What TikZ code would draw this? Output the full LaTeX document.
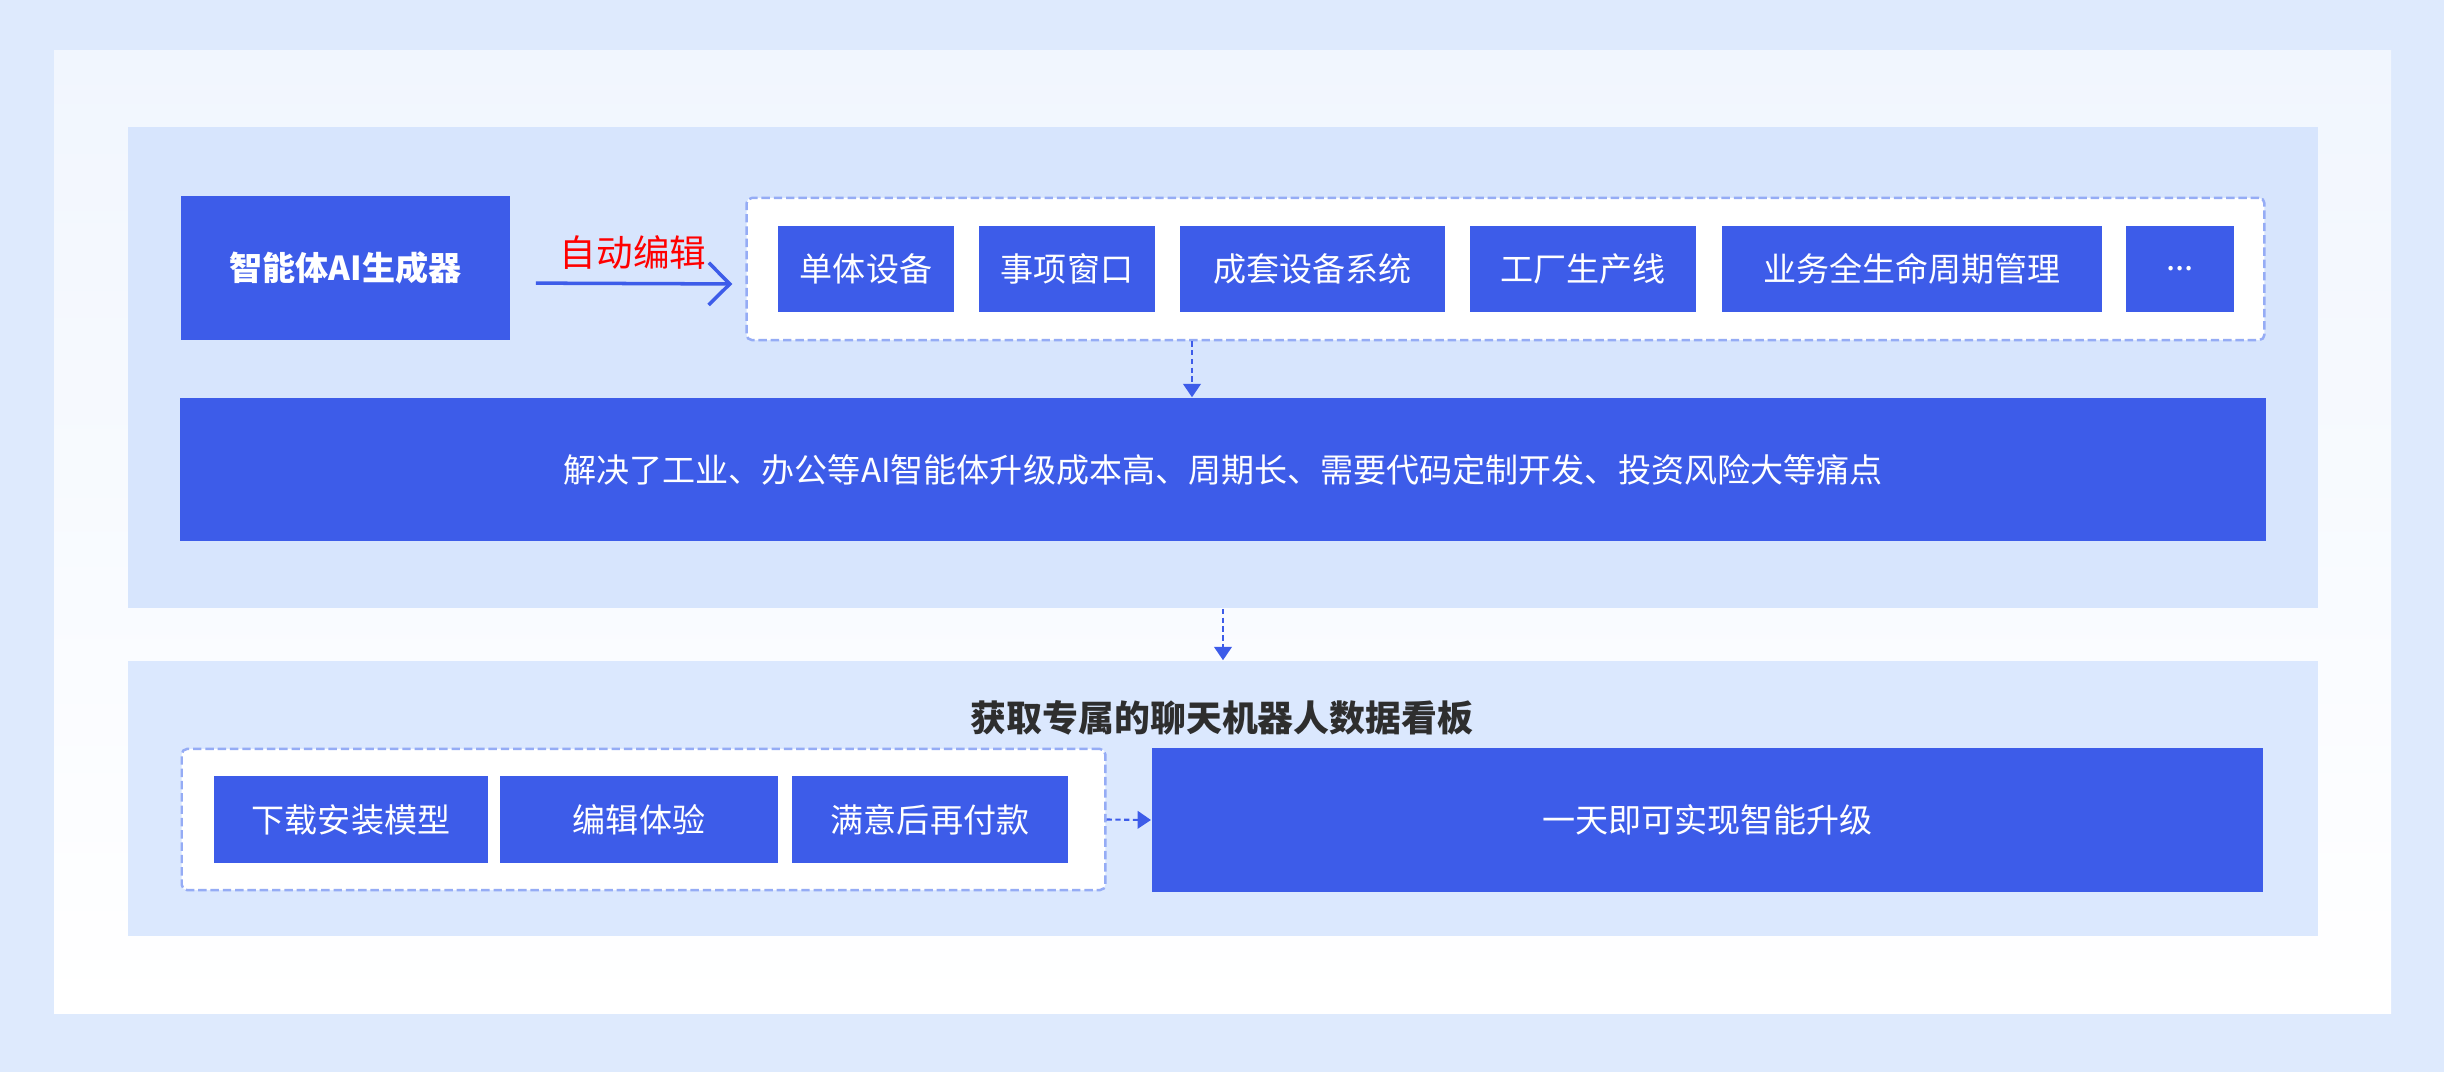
\documentclass[tikz,border=0pt]{standalone}
\usepackage{fontspec}
\usepackage{xcolor}
\newfontfamily\cjk{Noto Sans CJK SC}
\usetikzlibrary{positioning,calc,arrows.meta}

\definecolor{outerbg}{HTML}{DEEAFD}
\definecolor{panelA}{HTML}{F1F6FE}
\definecolor{secA}{HTML}{D7E5FD}
\definecolor{secB}{HTML}{DBE8FE}
\definecolor{boxblue}{HTML}{3D5CE9}
\definecolor{dashblue}{HTML}{95ACF5}
\definecolor{titlegray}{HTML}{2E2E2E}

\begin{document}
\begin{tikzpicture}[x=0.01cm, y=-0.01cm,
  blk/.style={fill=boxblue, text=white, inner sep=0pt, font=\cjk\fontsize{9.4}{11}\selectfont},
  grpbox/.style={draw=dashblue, fill=white, line width=0.7pt, dash pattern=on 2.4pt off 1.1pt, rounded corners=1.5pt, inner sep=0pt},
  sec/.style={inner sep=0pt},
  flow/.style={draw=boxblue, line width=1pt, -{Straight Barb[length=6pt,width=12pt]}},
  dflow/.style={draw=boxblue, line width=0.6pt, dash pattern=on 1.5pt off 1pt, -{Triangle[length=3.8pt,width=5pt]}},
  lbl/.style={text=red, inner sep=0pt, font=\cjk\fontsize{10.4}{12}\selectfont}]

  % Background and panel
  \fill[outerbg] (0,0) rectangle (2444,1072);
  \shade[top color=panelA, bottom color=white] (54,50) rectangle (2391,1013);

  % Sections
  \node[sec, fill=secA, minimum width=21.88cm, minimum height=4.81cm] (upper) at (1223,367.5) {};
  \node[sec, fill=secB, minimum width=21.88cm, minimum height=2.75cm] (lower) at (1223,798.5) {};

  % Generator and scenarios
  \node[blk, minimum width=3.29cm, minimum height=1.44cm, font=\cjk\bfseries\fontsize{9.4}{11}\selectfont] (gen) at (345.5,268) {智能体AI生成器};
  \node[grpbox, minimum width=15.17cm, minimum height=1.42cm] (grp) at (1505.5,269) {};
  \node[blk, minimum width=1.76cm, minimum height=0.86cm] (dev) at (866,269) {单体设备};
  \node[blk, minimum width=1.76cm, minimum height=0.86cm] (win) at (1067,269) {事项窗口};
  \node[blk, minimum width=2.65cm, minimum height=0.86cm] (sys) at (1312.5,269) {成套设备系统};
  \node[blk, minimum width=2.26cm, minimum height=0.86cm] (fab) at (1583,269) {工厂生产线};
  \node[blk, minimum width=3.80cm, minimum height=0.86cm] (biz) at (1912,269) {业务全生命周期管理};
  \node[blk, minimum width=1.08cm, minimum height=0.86cm] (more) at (2180,269) {...};
  \draw[flow, shorten <=0.25cm, shorten >=0.13cm] ([yshift=-0.15cm]gen.east) -- ([yshift=-0.15cm]grp.west)
    node[midway, above=3.5pt, xshift=0.05cm, lbl] {自动编辑};

  % Pain points
  \node[blk, minimum width=20.84cm, minimum height=1.43cm] (pain) at (1223,469.5) {解决了工业、办公等AI智能体升级成本高、周期长、需要代码定制开发、投资风险大等痛点};
  \coordinate (dx) at (1192,0);
  \draw[dflow] (grp.south -| dx) -- (pain.north -| dx);

  \draw[dflow] (upper.south) -- (lower.north);

  % Lower part
  \node[inner sep=0pt, text=titlegray, font=\cjk\bfseries\fontsize{10.2}{12}\selectfont] (title) at (1222,718) {获取专属的聊天机器人数据看板};
  \node[grpbox, minimum width=9.23cm, minimum height=1.41cm] (lgrp) at (643.5,819.5) {};
  \node[blk, minimum width=2.74cm, minimum height=0.87cm] (dl) at (351,819.5) {下载安装模型};
  \node[blk, minimum width=2.78cm, minimum height=0.87cm] (edit) at (639,819.5) {编辑体验};
  \node[blk, minimum width=2.76cm, minimum height=0.87cm] (pay) at (930,819.5) {满意后再付款};
  \node[blk, minimum width=11.11cm, minimum height=1.44cm] (fast) at (1707.5,820) {一天即可实现智能升级};
  \draw[dflow] (lgrp.east) -- (fast.west);
\end{tikzpicture}
\end{document}
